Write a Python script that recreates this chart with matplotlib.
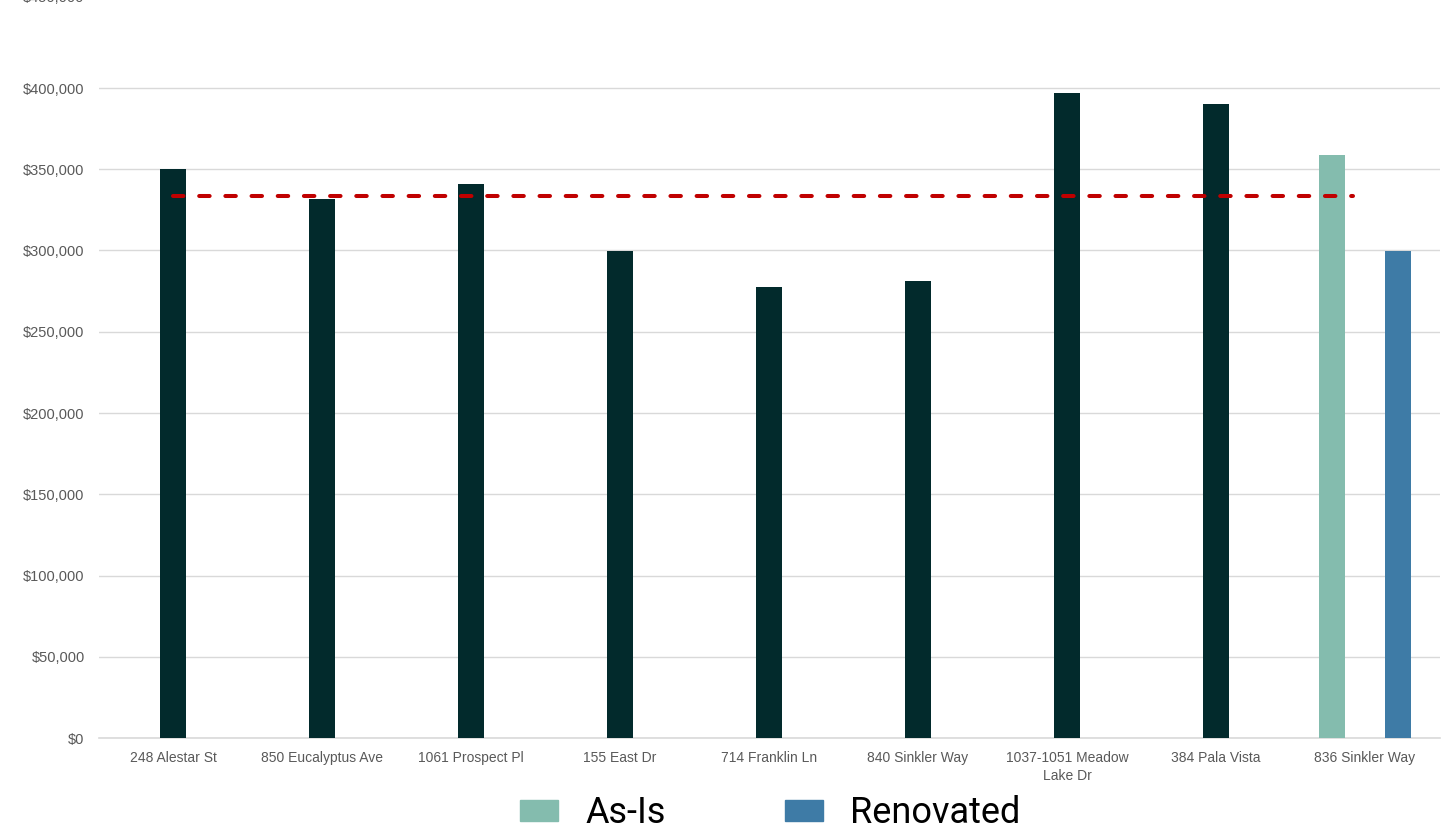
import matplotlib.pyplot as plt
import matplotlib.patches as mpatches
from matplotlib.ticker import FuncFormatter, FixedLocator
import numpy as np

# Comparable sales and the subject property (836 Sinkler Way)
comp_names = ['248 Alestar St', '850 Eucalyptus Ave', '1061 Prospect Pl', '155 East Dr',
              '714 Franklin Ln', '840 Sinkler Way', '1037-1051 Meadow\nLake Dr', '384 Pala Vista']
comp_prices = [350000, 332000, 341000, 299500, 277500, 281000, 397000, 390000]

subject_name = '836 Sinkler Way'
as_is_price = 359000
renovated_price = 299500

y_max = 450000
y_ticks = [0, 50000, 100000, 150000, 200000, 250000, 300000, 350000, 400000]

comp_color = '#022a2c'
as_is_color = '#84bcae'
renovated_color = '#3e7ba6'
avg_color = '#c00000'
grid_color = '#d9d9d9'
label_color = '#595959'

plt.rcParams['font.family'] = ['Liberation Sans', 'DejaVu Sans']

fig = plt.figure(figsize=(14.56, 8.30), dpi=100)
ax = fig.add_axes([98.5 / 1456, 92 / 830, 1341 / 1456, 731.25 / 830])

labels = comp_names + [subject_name]
x = np.arange(len(labels))
width = 0.175
offset = 0.221

ax.bar(x[:len(comp_prices)], comp_prices, width=width, color=comp_color, zorder=3)
ax.bar(x[-1] - offset, as_is_price, width=width, color=as_is_color, zorder=3)
ax.bar(x[-1] + offset, renovated_price, width=width, color=renovated_color, zorder=3)

# average of the comps as a dashed reference line
avg = np.mean(comp_prices)
ax.plot([x[0], x[-1] - 0.08], [avg, avg], color=avg_color, linewidth=2.9,
        dashes=(2.6, 3.9), dash_capstyle='round', zorder=4)

money = lambda v, p=None: '${:,.0f}'.format(v)

ax.set_xlim(-0.5, len(labels) - 0.5)
ax.set_ylim(0, y_max)
ax.yaxis.set_major_locator(FixedLocator(y_ticks))
ax.yaxis.set_major_formatter(FuncFormatter(money))
ax.set_xticks(x)
ax.set_xticklabels(labels, linespacing=1.4)

ax.grid(axis='y', color=grid_color, linewidth=1, zorder=0)
for side in ['top', 'right', 'left']:
    ax.spines[side].set_visible(False)
ax.spines['bottom'].set_color(grid_color)
ax.spines['bottom'].set_linewidth(1.2)
ax.tick_params(axis='y', length=0, pad=10, labelsize=10.5, labelcolor=label_color)
ax.tick_params(axis='x', length=0, pad=9, labelsize=10, labelcolor=label_color)

# top value label sits at the very edge, mostly cut off
ax.annotate(money(y_max), xy=(0, y_max), xycoords=('axes fraction', 'data'),
            xytext=(-14, 9), textcoords='offset pixels', ha='right', va='center',
            fontsize=10.5, color=label_color, annotation_clip=False)

handles = [mpatches.Patch(color=as_is_color, label='As-Is'),
           mpatches.Patch(color=renovated_color, label='Renovated')]
fig.legend(handles=handles, loc='center', bbox_to_anchor=(0.529, 0.02), ncol=2,
           frameon=False, prop={'family': 'Roboto', 'size': 26},
           handlelength=1.05, handleheight=0.5, handletextpad=0.75, columnspacing=3.3)

fig.savefig('out.png', dpi=100)
